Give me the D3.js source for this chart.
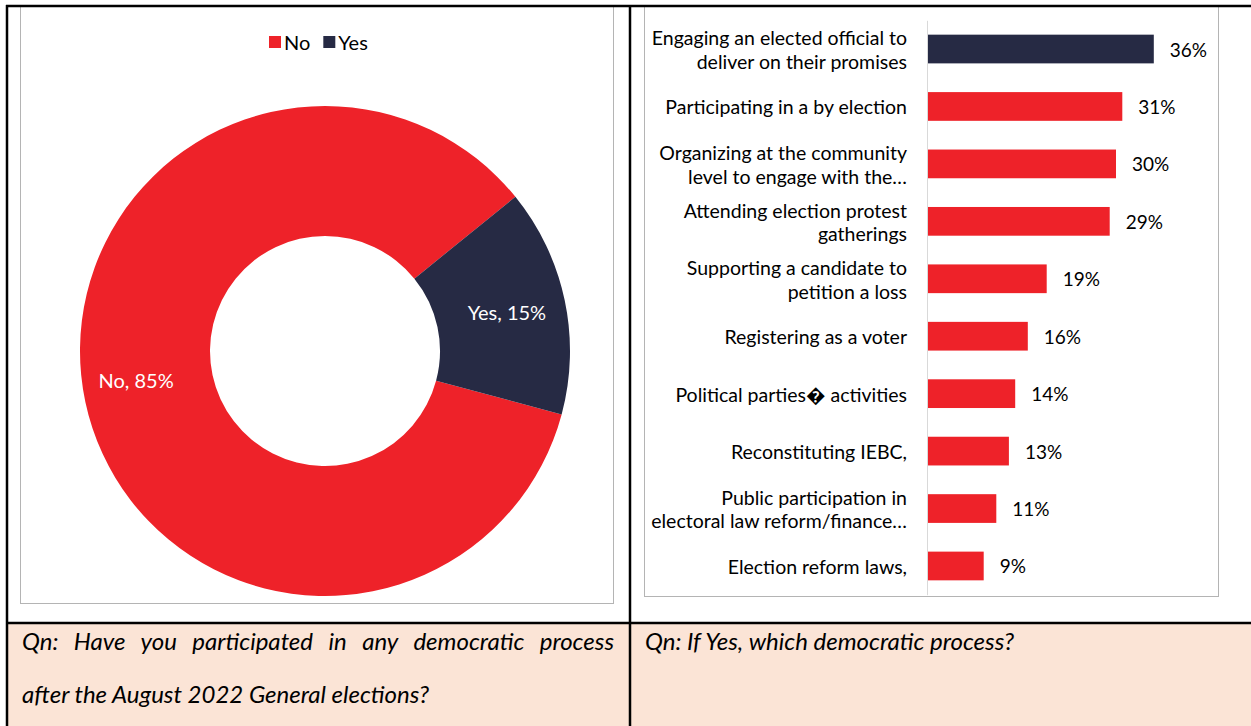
<!DOCTYPE html>
<html>
<head>
<meta charset="utf-8">
<script src="https://cdn.jsdelivr.net/npm/d3@7"></script>
<style>
  body { margin: 0; background: #fff; }
  svg { display: block; }
  text { font-family: Lato, "Open Sans", sans-serif; fill: #000; }
</style>
</head>
<body>
<div id="chart"></div>
<script>
var width = 1251, height = 726;

// donut data
var pieLabels = ["No", "Yes"];
var pieValues = [85, 15];
var pieColors = ["#ee2229", "#262a44"];

// bar data (label lines split with \n)
var processes = [
  "Engaging an elected official to\ndeliver on their promises",
  "Participating in a by election",
  "Organizing at the community\nlevel to engage with the\u2026",
  "Attending election protest\ngatherings",
  "Supporting a candidate to\npetition a loss",
  "Registering as a voter",
  "Political parties\uFFFD activities",
  "Reconstituting IEBC,",
  "Public participation in\nelectoral law reform/finance\u2026",
  "Election reform laws,"
];
var processValues = [36, 31, 30, 29, 19, 16, 14, 13, 11, 9];
var barColors = ["#262a44", "#ee2229", "#ee2229", "#ee2229", "#ee2229",
                 "#ee2229", "#ee2229", "#ee2229", "#ee2229", "#ee2229"];

var leftCaption = ["Qn: Have you participated in any democratic process",
                   "after the August 2022 General elections?"];
var rightCaption = ["Qn: If Yes, which democratic process?"];

var svg = d3.select("#chart")
  .append("svg")
    .attr("width", width)
    .attr("height", height);

// caption row background
svg.append("rect")
  .attr("x", 7).attr("y", 623)
  .attr("width", width - 7).attr("height", height - 623)
  .style("fill", "#fbe4d6");

// chart frames
svg.append("rect")
  .attr("x", 20.5).attr("y", 6.5)
  .attr("width", 593).attr("height", 597)
  .style("fill", "#fff").style("stroke", "#b4b4b4");
svg.append("rect")
  .attr("x", 644.5).attr("y", 6.5)
  .attr("width", 574).attr("height", 590)
  .style("fill", "#fff").style("stroke", "#b4b4b4");

// ---- donut ----
var cx = 325, cy = 351, outerR = 245, innerR = 115;
var pie = d3.pie().sort(null)
  .startAngle(105 * Math.PI / 180)
  .endAngle(465 * Math.PI / 180);
var arc = d3.arc().innerRadius(innerR).outerRadius(outerR);
var labelArc = d3.arc().innerRadius(186).outerRadius(186);

var donut = svg.append("g").attr("transform", "translate(" + cx + "," + cy + ")");
var slices = pie(pieValues);
donut.selectAll("path")
  .data(slices)
  .enter().append("path")
    .attr("d", arc)
    .style("fill", function(d, i) { return pieColors[i]; });

donut.selectAll("text")
  .data(slices)
  .enter().append("text")
    .attr("transform", function(d, i) {
      var c = labelArc.centroid(d);
      // excel nudges the big slice label toward the horizontal
      if (i === 0) c = [c[0] - 7, c[1] - 10];
      return "translate(" + c + ")";
    })
    .attr("text-anchor", "middle")
    .attr("dominant-baseline", "central")
    .style("font-size", "20px")
    .style("fill", "#fff")
    .text(function(d, i) { return pieLabels[i] + ", " + pieValues[i] + "%"; });

// legend
var legend = svg.append("g").attr("transform", "translate(269,42)");
var lx = 0;
pieLabels.forEach(function(name, i) {
  legend.append("rect")
    .attr("x", lx).attr("y", -6)
    .attr("width", 12).attr("height", 12)
    .style("fill", pieColors[i]);
  var t = legend.append("text")
    .attr("x", lx + 15).attr("y", 0)
    .attr("dominant-baseline", "central")
    .style("font-size", "20px")
    .text(name);
  lx += 15 + t.node().getComputedTextLength() + 13;
});

// ---- bars ----
var x = d3.scaleLinear().domain([0, 40]).range([927, 927 + 252]);
var y = d3.scaleBand()
  .domain(processes)
  .range([20.3, 594.7])
  .paddingInner(0.5)
  .paddingOuter(0.25);

svg.selectAll(".bar")
  .data(processValues)
  .enter().append("rect")
    .attr("class", "bar")
    .attr("x", x(0))
    .attr("y", function(d, i) { return y(processes[i]); })
    .attr("width", function(d) { return x(d) - x(0); })
    .attr("height", y.bandwidth())
    .style("fill", function(d, i) { return barColors[i]; });

svg.selectAll(".val")
  .data(processValues)
  .enter().append("text")
    .attr("class", "val")
    .attr("x", function(d) { return x(d) + 16; })
    .attr("y", function(d, i) { return y(processes[i]) + y.bandwidth() / 2; })
    .attr("dominant-baseline", "central")
    .style("font-size", "19px")
    .text(function(d) { return d + "%"; });

var yAxis = svg.append("g")
  .attr("transform", "translate(" + x(0) + ",0)")
  .call(d3.axisLeft(y).tickSize(0).tickPadding(20));
yAxis.select(".domain").style("stroke", "#d9d9d9");
yAxis.selectAll(".tick text")
  .style("font-size", "19.5px")
  .style("font-family", "Lato, 'Open Sans', sans-serif")
  .style("fill", "#000")
  .each(function(d) {
    var lines = d.split("\n");
    var el = d3.select(this).text(null).attr("dy", null)
      .attr("dominant-baseline", "central");
    lines.forEach(function(line, k) {
      el.append("tspan")
        .attr("x", -20)
        .attr("y", (k - (lines.length - 1) / 2) * 23.5)
        .text(line);
    });
  });

// ---- captions ----
function captionLine(text, x0, y0, justifyTo) {
  var t = svg.append("text")
    .attr("y", y0)
    .attr("dominant-baseline", "central")
    .style("font-size", "24px").style("font-style", "italic");
  if (!justifyTo) {
    t.attr("x", x0).text(text);
    return;
  }
  // spread words across the cell, like justified text
  var words = text.split(" ");
  var spans = words.map(function(w) { return t.append("tspan").text(w); });
  var widths = spans.map(function(s) { return s.node().getComputedTextLength(); });
  var gap = (justifyTo - x0 - d3.sum(widths)) / (words.length - 1);
  var px = x0;
  spans.forEach(function(s, i) {
    s.attr("x", px);
    px += widths[i] + gap;
  });
}
leftCaption.forEach(function(line, i) {
  captionLine(line, 22, 640 + i * 53, i === 0 ? 614 : null);
});
rightCaption.forEach(function(line, i) {
  captionLine(line, 645, 640 + i * 53, null);
});

// table lines
var rules = [
  [6, 6, width, 6],
  [7, 5, 7, height],
  [630, 5, 630, height],
  [6, 623, width, 623]
];
svg.selectAll(".rule")
  .data(rules)
  .enter().append("line")
    .attr("class", "rule")
    .attr("x1", function(d) { return d[0]; })
    .attr("y1", function(d) { return d[1]; })
    .attr("x2", function(d) { return d[2]; })
    .attr("y2", function(d) { return d[3]; })
    .style("stroke", "#000")
    .style("stroke-width", 2.5);
</script>
</body>
</html>
